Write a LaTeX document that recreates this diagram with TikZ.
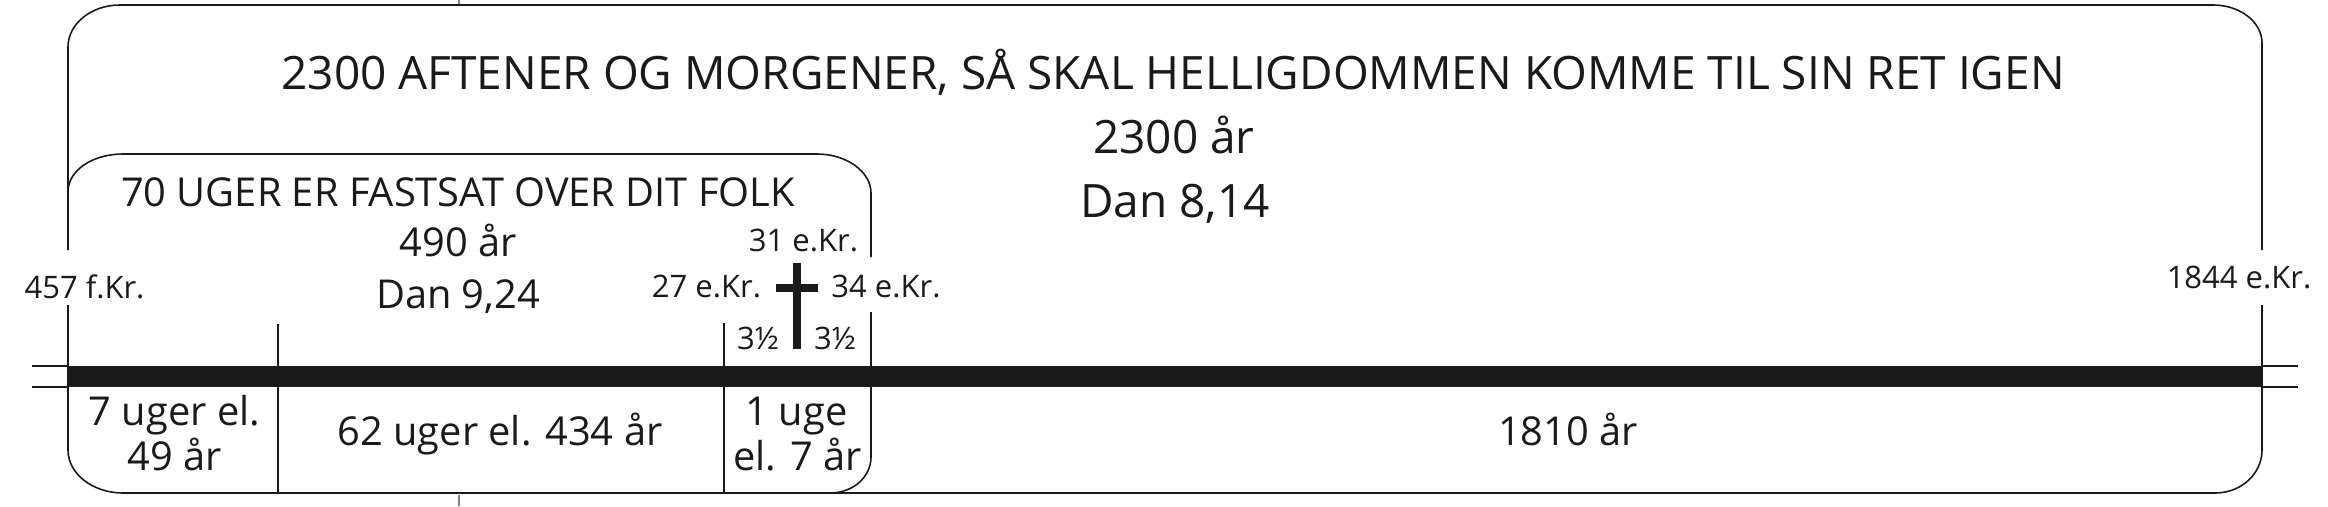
\documentclass[tikz,border=0pt]{standalone}
\usepackage{fontspec}
\setmainfont{Open Sans}
\definecolor{ink}{HTML}{1A1A1A}
\tikzset{
  x=1pt, y=-1pt,
  lbl/.style={inner sep=0pt, anchor=base, text=ink},
  big/.style={lbl, font=\fontsize{46}{52}\selectfont},
  mid/.style={lbl, font=\fontsize{39.8}{46}\selectfont},
  small/.style={lbl, font=\fontsize{31}{36}\selectfont},
  frame/.style={draw=ink, line width=1.6pt},
  thin/.style={draw=ink, line width=1.5pt},
}
\begin{document}
\begin{tikzpicture}
\useasboundingbox (0,0) rectangle (2328,506);
% crop marks
\draw[gray, line width=2pt] (459,0) -- (459,5);
\draw[gray, line width=2pt] (459,495) -- (459,506);
% outer box
\draw[frame] (68,250) -- (68,47) .. controls (68,24) and (91,5) .. (120,5) -- (2213,5)
  .. controls (2240,5) and (2262,22) .. (2262,43) -- (2262,250);
\draw[frame] (2262,305) -- (2262,450) .. controls (2262,474) and (2241,493) .. (2215,493)
  -- (123,493) .. controls (93,493) and (68,474) .. (68,450) -- (68,305);
% inner box
\draw[frame] (68,192) .. controls (68,170) and (93,154) .. (123,154) -- (817,154)
  .. controls (847,154) and (871,172) .. (871,193) -- (871,257);
\draw[frame] (871,312) -- (871,457) .. controls (871,477) and (853,493) .. (830,493);
% dividers
\draw[frame] (278,324) -- (278,493);
\draw[frame] (724,323) -- (724,493);
% timeline bar
\fill[ink] (68,366) rectangle (2262,387);
\draw[thin] (32,366) -- (68,366) (32,387) -- (68,387);
\draw[thin] (2262,366) -- (2298,366) (2262,387) -- (2298,387);
% cross
\fill[ink] (793.3,263) rectangle (800.7,349);
\fill[ink] (776,283.5) rectangle (818,291.5);
% texts
\node[big] (t1) at (1173,89) {2300 AFTENER OG MORGENER, SÅ SKAL HELLIGDOMMEN KOMME TIL SIN RET IGEN};
\node[big] (t2) at (1174,153) {2300 år};
\node[big] (t3) at (1175,217) {Dan 8,14};
\node[mid] (s1) at (458,206) {70 UGER ER FASTSAT OVER DIT FOLK};
\node[mid] (s2) at (458,256) {490 år};
\node[mid] (s3) at (458,308) {Dan 9,24};
\node[small] (d1) at (84.5,298) {457 f.Kr.};
\node[small] (d2) at (2239,288) {1844 e.Kr.};
\node[small] (d3) at (803.5,251) {31 e.Kr.};
\node[small] (d4) at (706.5,297) {27 e.Kr.};
\node[small] (d5) at (886,297) {34 e.Kr.};
\node[small] (h1) at (758,349) {3½};
\node[small] (h2) at (835,349) {3½};
\node[mid] (b1) at (174.5,425) {7 uger el.};
\node[mid] (b2) at (175,470) {49 år};
\node[mid] (b3) at (500,445) {62 uger el. 434 år};
\node[mid] (b4) at (796.5,425) {1 uge};
\node[mid] (b5) at (797.5,470) {el. 7 år};
\node[mid] (b6) at (1568,445) {1810 år};
\end{tikzpicture}
\end{document}
